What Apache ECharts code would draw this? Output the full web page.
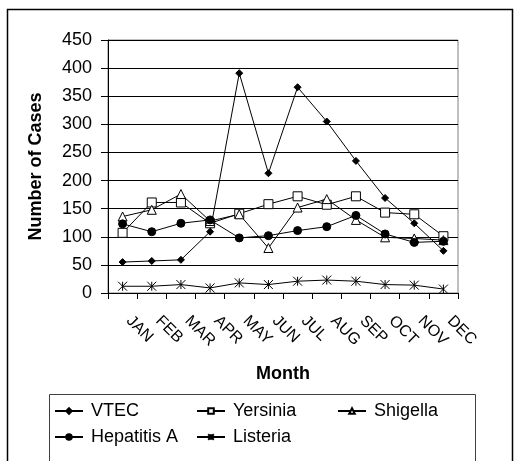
<!DOCTYPE html>
<html>
<head>
<meta charset="utf-8">
<script src="https://cdn.jsdelivr.net/npm/echarts@6/dist/echarts.min.js"></script>
<style>
html,body{margin:0;padding:0;background:#fff;}
#chart{width:514px;height:461px;}
</style>
</head>
<body>
<div id="chart"></div>
<script>
var months = ['JAN','FEB','MAR','APR','MAY','JUN','JUL','AUG','SEP','OCT','NOV','DEC'];
var vtec      = [55, 57, 59, 109, 391, 213, 366, 305, 235, 169, 124, 75];
var yersinia  = [107, 161, 161, 124, 141, 158, 172, 157, 172, 143, 140, 101];
var shigella  = [136, 148, 176, 128, 140, 80, 152, 167, 130, 99, 97, 94];
var hepatitisA= [123, 109, 124, 130, 98, 102, 111, 118, 138, 105, 90, 92];
var listeria  = [12, 12, 15, 9, 18, 15, 21, 23, 21, 15, 14, 7];
var yTicks = {min: 0, max: 450, interval: 50};

var FONT = "'Liberation Sans', Arial, sans-serif";
var starPath = 'path://M0,0L10,10M10,0L0,10M5,0L5,10';

function mkSeries(name, data, symbol, size, fill) {
  return {
    name: name, type: 'line', data: data,
    symbol: symbol, symbolSize: size, showAllSymbol: true,
    lineStyle: {color: '#000', width: 1},
    itemStyle: {color: fill, borderColor: '#000', borderWidth: 1},
    emphasis: {disabled: true},
    animation: false
  };
}

function mkLegend(name, left, top) {
  return {
    data: [name], left: left, top: top, orient: 'horizontal',
    itemWidth: 28, itemHeight: 7, padding: 0,
    textStyle: {fontFamily: FONT, fontSize: 18, color: '#000', padding: [0,0,0,3]},
    selectedMode: false
  };
}

var chart = echarts.init(document.getElementById('chart'), null, {renderer: 'canvas'});
chart.setOption({
  backgroundColor: '#fff',
  animation: false,
  grid: {left: 108, top: 40, width: 350, height: 253, show: true, borderColor: '#808080', borderWidth: 1, backgroundColor: 'transparent'},
  xAxis: {
    type: 'category', data: months, boundaryGap: true,
    name: 'Month', nameLocation: 'middle', nameGap: 72,
    nameTextStyle: {fontFamily: FONT, fontSize: 18, fontWeight: 'bold', color: '#000'},
    axisLine: {lineStyle: {color: '#000', width: 1}},
    axisTick: {show: true, length: 6, lineStyle: {color: '#000'}},
    axisLabel: {rotate: -45, margin: 19, padding: [0,0,0,9], fontFamily: FONT, fontSize: 16, color: '#000', interval: 0},
    splitLine: {show: false}
  },
  yAxis: {
    type: 'value', min: yTicks.min, max: yTicks.max, interval: yTicks.interval,
    name: 'Number of Cases', nameLocation: 'middle', nameGap: 63, nameRotate: 90,
    nameTextStyle: {fontFamily: FONT, fontSize: 18, fontWeight: 'bold', color: '#000'},
    axisLine: {show: true, lineStyle: {color: '#000', width: 1}},
    axisTick: {show: true, length: 7, lineStyle: {color: '#000'}},
    axisLabel: {margin: 16, fontFamily: FONT, fontSize: 18, color: '#000'},
    splitLine: {show: true, lineStyle: {color: '#000', width: 1}}
  },
  legend: [
    mkLegend('VTEC', 54, 402),
    mkLegend('Yersinia', 196, 402),
    mkLegend('Shigella', 337, 402),
    mkLegend('Hepatitis A', 54, 428),
    mkLegend('Listeria', 196, 428)
  ],
  graphic: [
    {type: 'rect', shape: {x: 7.5, y: 9.5, width: 505, height: 470}, style: {fill: null, stroke: '#000', lineWidth: 1.5}, silent: true},
    {type: 'rect', shape: {x: 49.5, y: 394.5, width: 426, height: 90}, style: {fill: null, stroke: '#404040', lineWidth: 1}, silent: true}
  ],
  series: [
    mkSeries('VTEC', vtec, 'diamond', 7, '#000'),
    mkSeries('Yersinia', yersinia, 'rect', 9, '#fff'),
    mkSeries('Shigella', shigella, 'triangle', 9, '#fff'),
    mkSeries('Hepatitis A', hepatitisA, 'circle', 8, '#000'),
    mkSeries('Listeria', listeria, starPath, 9, '#000')
  ]
});
</script>
</body>
</html>
